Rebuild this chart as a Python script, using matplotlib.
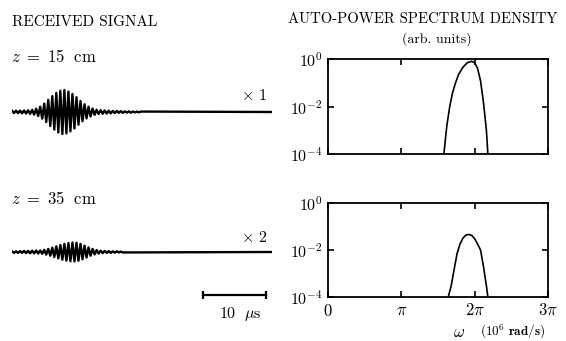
import matplotlib
matplotlib.use('Agg')
import matplotlib.pyplot as plt
import numpy as np

plt.rcParams['font.family'] = 'cmr10'
plt.rcParams['mathtext.fontset'] = 'cm'
plt.rcParams['axes.formatter.use_mathtext'] = True

# received signal, half-cycle extremes (alternating sign), relative amplitude
half_period = 0.32  # us
record_len = 41.3   # us
sig_15 = [0.06, 0.05, 0.06, 0.05, 0.06, 0.06, 0.07, 0.07, 0.08, 0.09, 0.10, 0.12, 0.15,
          0.18, 0.24, 0.30, 0.38, 0.46, 0.55, 0.64, 0.72, 0.80, 0.87, 0.93, 0.97, 1.00,
          1.00, 0.97, 0.93, 0.88, 0.82, 0.75, 0.67, 0.58, 0.50, 0.42, 0.35, 0.29, 0.24,
          0.20, 0.16, 0.13, 0.10, 0.09, 0.08, 0.08, 0.07, 0.07, 0.06, 0.06, 0.05, 0.05,
          0.05, 0.04, 0.04, 0.04, 0.03, 0.03, 0.03, 0.03, 0.02, 0.02, 0.02, 0.02, 0.02]
sig_35 = [0.03, 0.04, 0.03, 0.04, 0.04, 0.04, 0.05, 0.05, 0.05, 0.06, 0.06, 0.06, 0.07,
          0.07, 0.07, 0.08, 0.10, 0.12, 0.14, 0.17, 0.20, 0.23, 0.26, 0.29, 0.32, 0.35,
          0.37, 0.39, 0.41, 0.42, 0.43, 0.43, 0.42, 0.40, 0.37, 0.33, 0.29, 0.25, 0.21,
          0.17, 0.14, 0.11, 0.09, 0.07, 0.06, 0.05, 0.05, 0.04, 0.04, 0.04, 0.03, 0.03,
          0.03, 0.02, 0.02, 0.02]
scale_bar = (30.3, 40.3)  # us

# auto-power spectrum density, omega in units of pi (1e6 rad/s)
w_15 = [1.58, 1.62, 1.66, 1.70, 1.74, 1.78, 1.84, 1.90, 1.96, 2.00, 2.04, 2.08, 2.12, 2.16, 2.18]
p_15 = [1e-4, 1.5e-3, 1e-2, 4e-2, 1e-1, 2.2e-1, 4.5e-1, 7e-1, 8e-1, 7e-1, 4e-1, 1.2e-1, 1.5e-2, 1e-3, 1e-4]
w_35 = [1.64, 1.68, 1.72, 1.76, 1.80, 1.84, 1.88, 1.92, 1.96, 2.00, 2.04, 2.08, 2.12, 2.16, 2.18]
p_35 = [1e-4, 3e-4, 1.5e-3, 7e-3, 1.8e-2, 3.2e-2, 4.3e-2, 4.6e-2, 4.2e-2, 3e-2, 1.8e-2, 1e-2, 2e-3, 3e-4, 1e-4]

W, H = 566, 341
fig = plt.figure(figsize=(W / 100, H / 100), dpi=100)


def box(l, t, r, b):
    return [l / W, 1 - b / H, (r - l) / W, (b - t) / H]


def trace(ext):
    t = np.arange(len(ext)) * half_period
    y = np.array(ext) * np.where(np.arange(len(ext)) % 2 == 0, 1, -1)
    t = np.append(t, record_len)
    y = np.append(y, 0)
    return t, y


amp_px = 22.0
half_h = 48
for ext, yc in [(sig_15, 112), (sig_35, 252)]:
    ax = fig.add_axes(box(12, yc - half_h, 272, yc + half_h))
    t, y = trace(ext)
    ax.plot(t, y, color='black', lw=1.7)
    ax.set_xlim(0, record_len)
    ax.set_ylim(-half_h / amp_px, half_h / amp_px)
    ax.axis('off')
    if yc == 252:
        yb = -(295 - yc) / amp_px
        ax.plot(scale_bar, [yb, yb], color='black', lw=1.6, marker='|', ms=6, mew=1.6,
                clip_on=False)

fig.text(12 / W, 1 - 22 / H, 'RECEIVED SIGNAL', fontsize=11, va='center')
fig.text(11 / W, 1 - 56 / H, r'$z\ =\ 15\ \ \mathrm{cm}$', fontsize=12, va='center')
fig.text(11 / W, 1 - 199 / H, r'$z\ =\ 35\ \ \mathrm{cm}$', fontsize=12, va='center')
fig.text(267 / W, 1 - 95 / H, r'$\times\ 1$', fontsize=11.5, va='center', ha='right')
fig.text(267 / W, 1 - 238 / H, r'$\times\ 2$', fontsize=11.5, va='center', ha='right')
fig.text(240 / W, 1 - 314 / H, r'$10\ \ \mu\mathrm{s}$', fontsize=11.5, va='center', ha='center')

fig.text(423 / W, 1 - 19 / H, 'AUTO-POWER SPECTRUM DENSITY', fontsize=10.6, va='center', ha='center')
fig.text(437 / W, 1 - 39 / H, '(arb. units)', fontsize=10, va='center', ha='center')

for w, p, (t, b), last in [(w_15, p_15, (59, 154), False), (w_35, p_35, (203, 297), True)]:
    ax = fig.add_axes(box(328, t, 548, b))
    ax.plot(np.array(w) * np.pi, p, color='black', lw=1.2)
    ax.set_yscale('log')
    ax.set_ylim(1e-4, 1)
    ax.set_xlim(0, 3 * np.pi)
    ax.set_yticks([1, 1e-2, 1e-4])
    ax.set_yticklabels([r'$10^{0}$', r'$10^{-2}$', r'$10^{-4}$'], fontsize=11.5)
    ax.minorticks_off()
    ax.set_xticks([0, np.pi, 2 * np.pi, 3 * np.pi])
    if last:
        ax.set_xticklabels([r'$0$', r'$\pi$', r'$2\pi$', r'$3\pi$'], fontsize=12)
    else:
        ax.set_xticklabels([])
    ax.tick_params(direction='in', length=4, width=1.2, top=True, right=True, pad=4)
    for s in ax.spines.values():
        s.set_linewidth(1.3)

fig.text(459 / W, 1 - 332 / H, r'$\omega$', fontsize=12, va='center', ha='center')
fig.text(513 / W, 1 - 332 / H, r'$(10^6\ \mathbf{rad/s})$', fontsize=9.5, va='center', ha='center')

fig.savefig('out.png', dpi=100)
